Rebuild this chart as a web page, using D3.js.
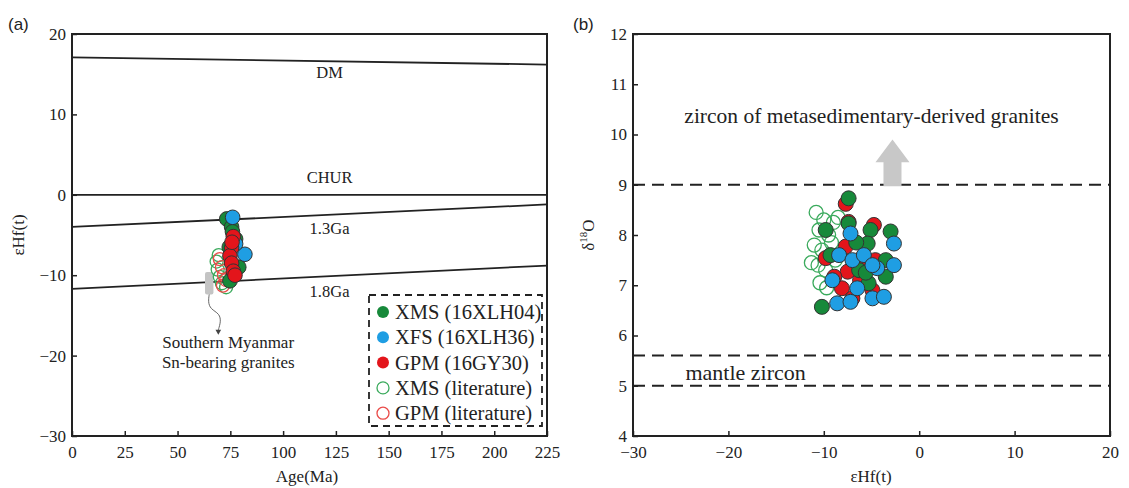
<!DOCTYPE html>
<html>
<head>
<meta charset="utf-8">
<script src="https://cdn.jsdelivr.net/npm/d3@7"></script>
<style>
  body { margin: 0; background: #fff; }
  text { font-family: "Liberation Serif", "Times New Roman", serif; fill: #222; }
</style>
</head>
<body>
<div id="chart"></div>
<script>
// ---- panel (a) reference lines: [age, eHf] at both ends
const lineDM   = [[0, 17.1], [225, 16.2]];
const lineCHUR = [[0, 0], [225, 0]];
const line13   = [[0, -4.0], [225, -1.2]];
const line18   = [[0, -11.7], [225, -8.8]];

// ---- panel (a) data: [age (Ma), eHf(t)]
const aXMS = [[73.3, -3.0], [75.6, -4.0], [77.5, -5.5], [74.5, -6.5], [79, -9.0], [74.8, -10.7], [76, -4.6]];
const aXFS = [[76.1, -2.8], [81.9, -7.4], [77.5, -6.1]];
const aGPM = [[76.4, -5.2], [75.6, -6.6], [74.8, -7.6], [75.6, -8.5], [76.4, -9.5], [77.2, -10.0], [75.8, -5.9]];
const aXMSlit = [[68.5, -8.3], [69, -9.3], [70, -10.2], [71, -11.0], [73, -11.5], [69.5, -7.5]];
const aGPMlit = [[70, -8.0], [71, -9.0], [72, -10.0], [73, -10.6], [71.5, -11.3]];

// ---- panel (b) data: [eHf(t), d18O]
const bXMS = [[-7.4, 8.73], [-9.8, 8.1], [-7.4, 8.23], [-5.1, 8.1], [-3.0, 8.07], [-5.4, 7.83], [-3.5, 7.5],
              [-3.5, 7.17], [-5.3, 7.04], [-6.3, 7.3], [-10.2, 6.57], [-9.3, 7.6], [-6.6, 7.85], [-5.6, 7.25]];
const bGPM = [[-7.7, 8.62], [-7.4, 8.26], [-4.75, 8.2], [-7.7, 7.77], [-9.8, 7.54], [-7.5, 7.27], [-8.1, 6.94],
              [-4.9, 6.9], [-6.0, 7.54], [-7.0, 6.74], [-8.9, 7.17], [-6.2, 7.1], [-4.6, 7.5]];
const bXFS = [[-7.2, 8.03], [-2.65, 7.83], [-8.4, 7.6], [-7.0, 7.5], [-5.8, 7.6], [-4.4, 7.34], [-2.65, 7.4],
              [-4.9, 7.4], [-9.1, 7.1], [-6.5, 6.94], [-8.6, 6.64], [-7.2, 6.67], [-4.9, 6.74], [-3.7, 6.77]];
const bXMSlit = [[-10.8, 8.45], [-10.0, 8.3], [-9.0, 8.25], [-8.5, 8.35], [-10.5, 8.1], [-9.5, 8.0], [-11.0, 7.8],
                 [-10.2, 7.7], [-9.2, 7.85], [-11.3, 7.45], [-10.6, 7.4], [-9.8, 7.3], [-10.4, 7.05], [-9.7, 6.95], [-8.8, 7.5]];

const mantleLines = [5.0, 5.6];
const metasedLine = 9.0;

const legendItems = [
  {label: "XMS (16XLH04)", fill: "#17893a", stroke: "#333"},
  {label: "XFS (16XLH36)", fill: "#1f9ee3", stroke: "#333"},
  {label: "GPM (16GY30)", fill: "#e3151b", stroke: "#333"},
  {label: "XMS (literature)", fill: "none", stroke: "#3aaa5c"},
  {label: "GPM (literature)", fill: "none", stroke: "#ea4b48"}
];

// evolution-line labels: [text, eHf of baseline]
const lineLabels = [["DM", 14.5], ["CHUR", 1.5], ["1.3Ga", -4.9], ["1.8Ga", -12.7]];

const ticksAX = [0, 25, 50, 75, 100, 125, 150, 175, 200, 225];
const ticksAY = [-30, -20, -10, 0, 10, 20];
const ticksBX = [-30, -20, -10, 0, 10, 20];
const ticksBY = [4, 5, 6, 7, 8, 9, 10, 11, 12];

const svg = d3.select("#chart").append("svg")
  .attr("width", 1129).attr("height", 488);

const fmt = d => d < 0 ? "\u2212" + Math.abs(d) : String(d);

function frame(g, x, y, xt, yt) {
  const [x0, x1] = x.range(), [y0, y1] = y.range();
  g.append("g").attr("transform", `translate(0,${y0})`)
    .call(d3.axisBottom(x).tickValues(xt).tickSize(-5).tickPadding(10).tickFormat(fmt))
    .call(a => a.select(".domain").remove());
  g.append("g").attr("transform", `translate(${x0},0)`)
    .call(d3.axisLeft(y).tickValues(yt).tickSize(-5).tickPadding(6).tickFormat(fmt))
    .call(a => a.select(".domain").remove());
  g.selectAll(".tick text").style("font-size", "17px").style("font-family", "Liberation Serif").attr("fill", "#222");
  g.selectAll(".tick line").attr("stroke", "#222").attr("stroke-width", 1.5);
  g.append("rect").attr("x", x0).attr("y", y1).attr("width", x1 - x0).attr("height", y0 - y1)
    .attr("fill", "none").attr("stroke", "#222").attr("stroke-width", 2);
}

function dots(g, data, x, y, fill, stroke, r) {
  g.append("g").selectAll("circle").data(data).join("circle")
    .attr("cx", d => x(d[0])).attr("cy", d => y(d[1])).attr("r", r)
    .attr("fill", fill).attr("stroke", stroke).attr("stroke-width", fill === "none" ? 1.3 : 1);
}

// ================= panel (a)
const xA = d3.scaleLinear().domain([0, 225]).range([72, 547]);
const yA = d3.scaleLinear().domain([-30, 20]).range([436, 34]);
const gA = svg.append("g");

const evoLine = d3.line().x(d => xA(d[0])).y(d => yA(d[1]));
[lineDM, lineCHUR, line13, line18].forEach(l =>
  gA.append("path").attr("d", evoLine(l)).attr("fill", "none").attr("stroke", "#222").attr("stroke-width", 1.8));

lineLabels.forEach(([t, v]) =>
  gA.append("text").attr("x", xA(122)).attr("y", yA(v)).attr("text-anchor", "middle")
    .style("font-size", "16.5px").text(t));

// gray field + squiggle arrow (Southern Myanmar)
gA.append("rect").attr("x", xA(63)).attr("y", yA(-9.6)).attr("width", xA(67) - xA(63))
  .attr("height", yA(-12.4) - yA(-9.6)).attr("rx", 2).attr("fill", "#c4c4c4");
const squiggle = [[65, -12.4], [64.5, -13.3], [65.5, -14.2], [70, -14.8], [70.5, -15.8], [69.3, -16.8]];
gA.append("path").attr("d", d3.line().curve(d3.curveBasis).x(d => xA(d[0])).y(d => yA(d[1]))(squiggle))
  .attr("fill", "none").attr("stroke", "#666").attr("stroke-width", 1);
gA.append("path").attr("d", d3.symbol(d3.symbolTriangle, 14)())
  .attr("transform", `translate(${xA(69.3)},${yA(-17.0)}) rotate(180)`).attr("fill", "#444");
gA.append("text").attr("x", xA(74)).attr("y", yA(-19.0)).attr("text-anchor", "middle")
  .style("font-size", "17px").text("Southern Myanmar");
gA.append("text").attr("x", xA(74)).attr("y", yA(-21.5)).attr("text-anchor", "middle")
  .style("font-size", "17px").text("Sn-bearing granites");

dots(gA, aXMSlit, xA, yA, "none", legendItems[3].stroke, 6.5);
dots(gA, aGPMlit, xA, yA, "none", legendItems[4].stroke, 6.5);
dots(gA, aXMS, xA, yA, legendItems[0].fill, "#333", 7.3);
dots(gA, aXFS, xA, yA, legendItems[1].fill, "#333", 7.3);
dots(gA, aGPM, xA, yA, legendItems[2].fill, "#333", 7.3);

frame(gA, xA, yA, ticksAX, ticksAY);

// legend
const leg = gA.append("g").attr("transform", "translate(369,295)");
leg.append("rect").attr("width", 173).attr("height", 131).attr("fill", "#fff")
  .attr("stroke", "#222").attr("stroke-width", 1.8).attr("stroke-dasharray", "7,5");
legendItems.forEach((d, i) => {
  const row = leg.append("g").attr("transform", `translate(0,${17 + i * 25.3})`);
  row.append("circle").attr("cx", 14).attr("cy", 0).attr("r", 6)
    .attr("fill", d.fill).attr("stroke", d.fill === "none" ? d.stroke : "none").attr("stroke-width", 1.3);
  row.append("text").attr("x", 26).attr("y", 7).style("font-size", "20.5px").text(d.label);
});

svg.append("text").attr("x", 8).attr("y", 30).style("font-family", "Liberation Sans")
  .style("font-size", "17px").text("(a)");
svg.append("text").attr("x", 307).attr("y", 482).attr("text-anchor", "middle")
  .style("font-size", "17px").text("Age(Ma)");
svg.append("text").attr("transform", "translate(24,235) rotate(-90)").attr("text-anchor", "middle")
  .style("font-size", "17px").text("\u03b5Hf(t)");

// ================= panel (b)
const xB = d3.scaleLinear().domain([-30, 20]).range([633, 1110]);
const yB = d3.scaleLinear().domain([4, 12]).range([436, 34]);
const gB = svg.append("g");

[...mantleLines, metasedLine].forEach(v =>
  gB.append("line").attr("x1", xB(-30)).attr("x2", xB(20)).attr("y1", yB(v)).attr("y2", yB(v))
    .attr("stroke", "#222").attr("stroke-width", 2).attr("stroke-dasharray", "12,7"));

// gray upward arrow
const ax = xB(-2.8), aw = 9, hw = 17;
gB.append("path").attr("d",
  `M${ax - aw},${yB(8.97)} L${ax - aw},${yB(9.45)} L${ax - hw},${yB(9.45)} L${ax},${yB(9.9)} ` +
  `L${ax + hw},${yB(9.45)} L${ax + aw},${yB(9.45)} L${ax + aw},${yB(8.97)} Z`).attr("fill", "#c8c8c8");

gB.append("text").attr("x", xB(-5)).attr("y", yB(10.22)).attr("text-anchor", "middle")
  .style("font-size", "21.5px").text("zircon of metasedimentary-derived granites");
gB.append("text").attr("x", xB(-24.5)).attr("y", yB(5.12)).attr("text-anchor", "start")
  .style("font-size", "22px").text("mantle zircon");

dots(gB, bXMSlit, xB, yB, "none", legendItems[3].stroke, 7);
dots(gB, bGPM, xB, yB, legendItems[2].fill, "#333", 7.5);
dots(gB, bXMS, xB, yB, legendItems[0].fill, "#333", 7.5);
dots(gB, bXFS, xB, yB, legendItems[1].fill, "#333", 7.5);

frame(gB, xB, yB, ticksBX, ticksBY);

svg.append("text").attr("x", 573).attr("y", 30).style("font-family", "Liberation Sans")
  .style("font-size", "17px").text("(b)");
svg.append("text").attr("x", 871).attr("y", 482).attr("text-anchor", "middle")
  .style("font-size", "17px").text("\u03b5Hf(t)");
const yl = svg.append("text").attr("transform", "translate(594,235) rotate(-90)").attr("text-anchor", "middle")
  .style("font-size", "17px");
yl.append("tspan").text("\u03b4");
yl.append("tspan").attr("dy", -7).style("font-size", "11px").text("18");
yl.append("tspan").attr("dy", 7).text("O");
</script>
</body>
</html>
